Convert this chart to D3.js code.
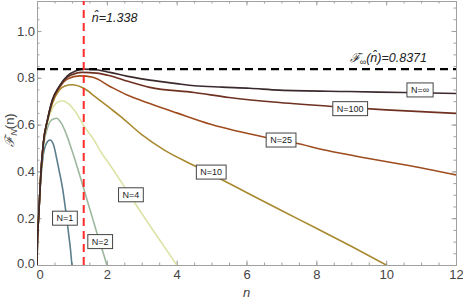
<!DOCTYPE html>
<html>
<head>
<meta charset="utf-8">
<script src="https://d3js.org/d3.v7.min.js"></script>
<style>
  body { margin: 0; background: #fff; }
  text { font-family: "Liberation Sans", Arial, sans-serif; }
</style>
</head>
<body>
<div id="chart"></div>
<script>
// values
var n1 = [0, 0.01, 0.03, 0.057, 0.105, 0.18, 0.27, 0.37, 0.47, 0.57, 0.63, 0.73, 0.82, 0.9, 0.96, 1.0];
var f1 = [0, 0.09, 0.16, 0.23, 0.36, 0.47, 0.52, 0.534, 0.515, 0.45, 0.406, 0.33, 0.235, 0.14, 0.065, 0];

var n2 = [0, 0.01, 0.03, 0.057, 0.105, 0.18, 0.3, 0.42, 0.56, 0.7, 0.85, 1.0, 1.15, 1.3, 1.45, 1.6, 1.75, 1.88, 2.0];
var f2 = [0, 0.09, 0.16, 0.235, 0.37, 0.5, 0.585, 0.62, 0.627, 0.605, 0.555, 0.49, 0.42, 0.345, 0.27, 0.195, 0.12, 0.06, 0];

var n4 = [0, 0.01, 0.03, 0.057, 0.105, 0.18, 0.3, 0.44, 0.58, 0.72, 0.9, 1.1, 1.34, 1.63, 1.8, 2.1, 2.5, 3.0, 3.5, 4.0];
var f4 = [0, 0.09, 0.16, 0.235, 0.375, 0.51, 0.61, 0.67, 0.695, 0.702, 0.69, 0.655, 0.595, 0.535, 0.49, 0.425, 0.335, 0.22, 0.11, 0];

var n10 = [0, 0.01, 0.03, 0.057, 0.105, 0.18, 0.3, 0.44, 0.63, 0.8, 1.0, 1.34, 1.7, 2.09, 2.4, 3.0, 3.66, 4.5, 5.13, 6, 7, 8, 9, 10];
var f10 = [0, 0.09, 0.16, 0.235, 0.377, 0.515, 0.615, 0.69, 0.745, 0.765, 0.77, 0.755, 0.715, 0.67, 0.634, 0.557, 0.49, 0.425, 0.377, 0.31, 0.233, 0.157, 0.08, 0];

var n25 = [0, 0.01, 0.03, 0.057, 0.105, 0.18, 0.3, 0.44, 0.63, 0.87, 1.23, 1.6, 2.09, 2.6, 3.23, 4, 5, 6.56, 7.37, 8.28, 9.5, 10.56, 12];
var f25 = [0, 0.09, 0.16, 0.235, 0.377, 0.52, 0.62, 0.7, 0.755, 0.795, 0.808, 0.802, 0.763, 0.725, 0.69, 0.65, 0.6, 0.545, 0.522, 0.49, 0.455, 0.427, 0.385];

var n100 = [0, 0.01, 0.03, 0.057, 0.105, 0.18, 0.3, 0.44, 0.63, 0.87, 1.3, 1.7, 2.09, 2.6, 3.23, 4.5, 5.5, 6.94, 8.46, 10, 12];
var f100 = [0, 0.09, 0.16, 0.235, 0.377, 0.52, 0.62, 0.705, 0.76, 0.803, 0.823, 0.82, 0.809, 0.785, 0.759, 0.737, 0.716, 0.694, 0.677, 0.663, 0.648];

var nInf = [0, 0.01, 0.03, 0.057, 0.105, 0.18, 0.3, 0.44, 0.63, 0.87, 1.1, 1.338, 1.7, 2.09, 2.6, 3.23, 4.0, 4.51, 5.3, 6.09, 6.94, 8.94, 10.5, 12];
var fInf = [0, 0.09, 0.16, 0.235, 0.377, 0.52, 0.62, 0.705, 0.762, 0.808, 0.829, 0.8371, 0.834, 0.823, 0.806, 0.79, 0.775, 0.766, 0.76, 0.755, 0.747, 0.741, 0.737, 0.733];

var seriesNames = ['N=1', 'N=2', 'N=4', 'N=10', 'N=25', 'N=100', 'N=\u221e'];
var seriesN = [n1, n2, n4, n10, n25, n100, nInf];
var seriesF = [f1, f2, f4, f10, f25, f100, fInf];
var colors = ['#5b7e8c', '#9db89f', '#dde3a6', '#a8892f', '#9e4c1f', '#6e3020', '#3b2a2c'];

// where each curve's label box sits (n, F)
var labelN = [0.8, 1.81, 2.69, 4.99, 6.99, 8.97, 10.97];
var labelF = [0.2, 0.1, 0.3, 0.397, 0.534, 0.668, 0.748];

var xTicks = [0, 2, 4, 6, 8, 10, 12];
var yTicks = [0, 0.2, 0.4, 0.6, 0.8, 1.0];
var nHat = 1.338, fHat = 0.8371;

var width = 463, height = 300;
var margin = {left: 37, right: 7, top: 1, bottom: 35};
var x = d3.scaleLinear().domain([0, 12]).range([margin.left, width - margin.right]);
var y = d3.scaleLinear().domain([0, 1.128]).range([height - margin.bottom, margin.top]);

var svg = d3.select('#chart').append('svg').attr('width', width).attr('height', height);

svg.append('defs').append('clipPath').attr('id', 'clip')
  .append('rect')
  .attr('x', x(0)).attr('y', y(1.128))
  .attr('width', x(12) - x(0)).attr('height', y(0) - y(1.128));

var frameColor = '#a0a0a0';

// frame with inward ticks (major + minor)
function frameTicks(g, scale, orient, major, minor, labels) {
  var ax;
  if (orient == 'bottom') ax = d3.axisBottom(scale);
  if (orient == 'top') ax = d3.axisTop(scale);
  if (orient == 'left') ax = d3.axisLeft(scale);
  if (orient == 'right') ax = d3.axisRight(scale);
  g.append('g').call(ax.tickValues(minor).tickSize(-2.5).tickFormat(''));
  var gMajor = g.append('g').call(ax.tickValues(major).tickSize(-4.5).tickFormat(labels ? labels : ''));
  g.selectAll('.domain').attr('stroke', frameColor);
  g.selectAll('line').attr('stroke', frameColor);
  g.selectAll('text').attr('fill', '#444').style('font-size', '13px');
  return gMajor;
}

var xMinor = d3.range(0, 12.01, 0.5);
var yMinor = d3.range(0, 1.13, 0.05);

var gb = svg.append('g').attr('transform', 'translate(0,' + y(0) + ')');
frameTicks(gb, x, 'bottom', xTicks, xMinor, d3.format('d'));
gb.selectAll('text').attr('dy', '0.95em').attr('y', 2);
// nudge the corner "0" so it clears the "0.0" label
gb.selectAll('.tick').filter(function(d) { return d === 0; }).select('text').attr('dx', 2.5);

var gt = svg.append('g').attr('transform', 'translate(0,' + y(1.128) + ')');
frameTicks(gt, x, 'top', xTicks, xMinor, null);

var gl = svg.append('g').attr('transform', 'translate(' + x(0) + ',0)');
frameTicks(gl, y, 'left', yTicks, yMinor, d3.format('.1f'));
gl.selectAll('text').attr('x', -2);
gl.selectAll('.tick').filter(function(d) { return d === 0; }).select('text').attr('dy', '0.2em');

var gr = svg.append('g').attr('transform', 'translate(' + x(12) + ',0)');
frameTicks(gr, y, 'right', yTicks, yMinor, null);

// curves
var line = d3.line()
  .x(function(d) { return x(d[0]); })
  .y(function(d) { return y(d[1]); })
  .curve(d3.curveMonotoneX);

var plot = svg.append('g').attr('clip-path', 'url(#clip)');
for (var i = 0; i < seriesNames.length; i++) {
  var pts = seriesN[i].map(function(v, j) { return [v, seriesF[i][j]]; });
  plot.append('path')
    .attr('d', line(pts))
    .attr('fill', 'none')
    .attr('stroke', colors[i])
    .attr('stroke-width', 1.6);
}

// reference lines
plot.append('line')
  .attr('x1', x(0)).attr('x2', x(12))
  .attr('y1', y(fHat)).attr('y2', y(fHat))
  .attr('stroke', '#000').attr('stroke-width', 2.2)
  .attr('stroke-dasharray', '8,5');
plot.append('line')
  .attr('x1', x(nHat)).attr('x2', x(nHat))
  .attr('y1', y(0)).attr('y2', y(1.128))
  .attr('stroke', '#ff2a2a').attr('stroke-width', 2)
  .attr('stroke-dasharray', '8,5');

// annotations
svg.append('text')
  .attr('x', x(1.57)).attr('y', 22)
  .style('font-size', '12.5px').style('font-style', 'italic')
  .attr('fill', '#222')
  .text('n\u0302=1.338');

var ann = svg.append('text')
  .attr('x', 427).attr('y', 62)
  .attr('text-anchor', 'end')
  .style('font-size', '12.5px').style('font-style', 'italic')
  .attr('fill', '#222');
ann.append('tspan').text('\u2131');
ann.append('tspan').attr('dy', 3).style('font-size', '9px').text('\u221e');
ann.append('tspan').attr('dy', -3).text('(n\u0302)=0.8371');

// curve labels
for (var k = 0; k < seriesNames.length; k++) {
  var lg = svg.append('g').attr('transform', 'translate(' + x(labelN[k]) + ',' + y(labelF[k]) + ')');
  var t = lg.append('text')
    .attr('text-anchor', 'middle')
    .attr('dy', '0.35em')
    .style('font-size', '9px')
    .attr('fill', '#222')
    .text(seriesNames[k]);
  var w = t.node().getComputedTextLength() + 8;
  lg.insert('rect', 'text')
    .attr('x', -w / 2).attr('y', -7)
    .attr('width', w).attr('height', 14)
    .attr('fill', '#fff')
    .attr('stroke', '#444').attr('stroke-width', 1);
}

// axis titles
svg.append('text')
  .attr('x', (x(0) + x(12)) / 2).attr('y', 297)
  .attr('text-anchor', 'middle')
  .style('font-size', '13px').style('font-style', 'italic')
  .attr('fill', '#444')
  .text('n');

var yl = svg.append('text')
  .attr('transform', 'translate(14,' + 130 + ') rotate(-90)')
  .attr('text-anchor', 'middle')
  .style('font-size', '13px')
  .attr('fill', '#444');
yl.append('tspan').style('font-style', 'italic').text('\u2131');
yl.append('tspan').attr('dy', 3).style('font-size', '9px').style('font-style', 'italic').text('N');
yl.append('tspan').attr('dy', -3).text('(n)');
</script>
</body>
</html>
